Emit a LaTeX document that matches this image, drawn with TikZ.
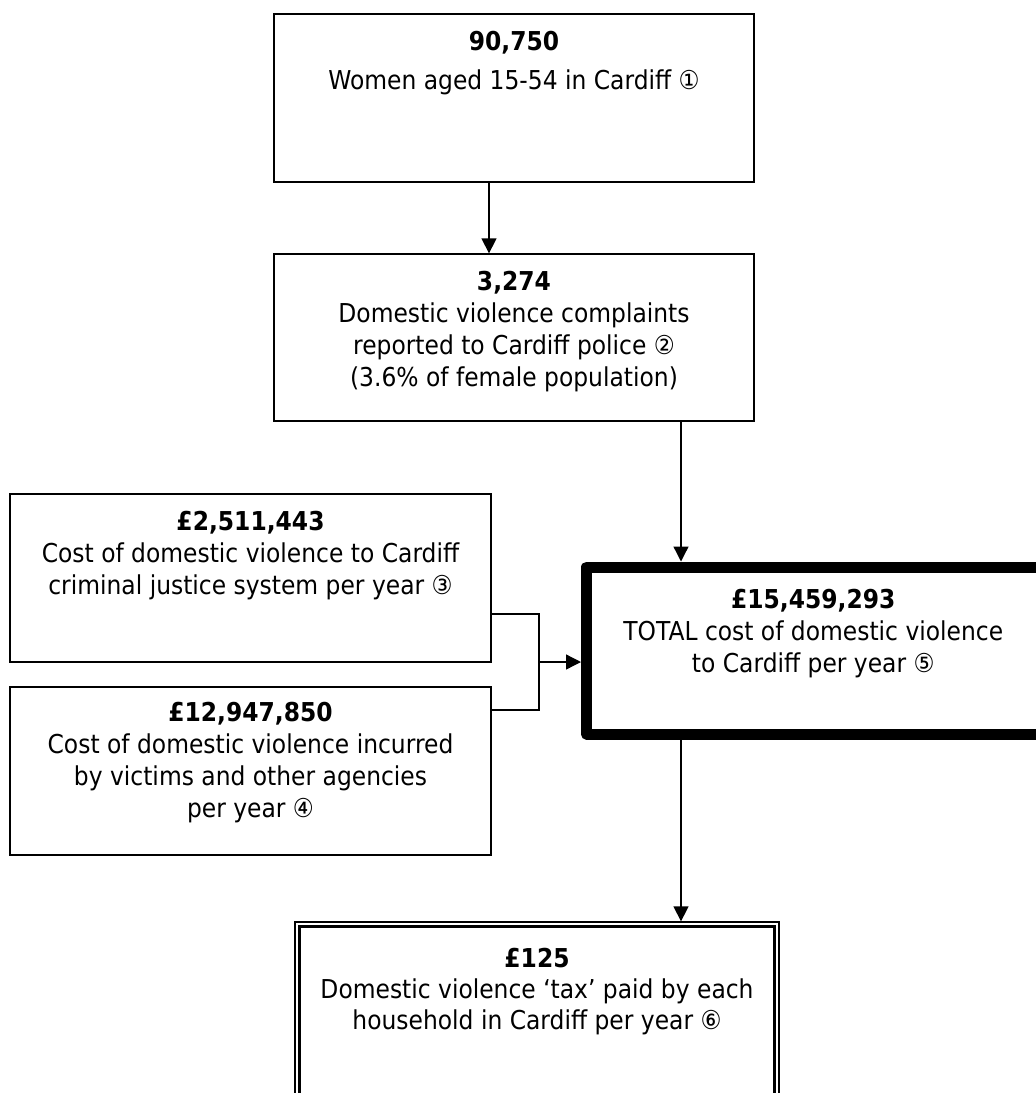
\documentclass[tikz,border=0pt]{standalone}
\usepackage{fontspec}
\setmainfont{DejaVu Sans}[FakeStretch=0.9]
\usetikzlibrary{arrows.meta,calc}
\begin{document}
\begin{tikzpicture}[x=1pt,y=-1pt,
  box/.style={draw, line width=1.3pt, rectangle, inner sep=0pt},
  txt/.style={anchor=north, align=center, inner sep=0pt, font=\fontsize{26}{32}\selectfont},
  arr/.style={-{Triangle[length=15pt,width=15pt]}, line width=1.3pt},
  conn/.style={line width=1.3pt}]
\useasboundingbox (0,0) rectangle (1036,1093);
\clip (0,0) rectangle (1036,1093);

% boxes
\node[box, minimum width=480pt, minimum height=168pt] (b1) at (514,98) {};
\node[box, minimum width=480pt, minimum height=167pt] (b2) at (514,337.5) {};
\node[box, minimum width=481pt, minimum height=168pt] (A) at (250.5,578) {};
\node[box, minimum width=481pt, minimum height=168pt] (B) at (250.5,771) {};
\node[box, line width=11pt, line join=round, minimum width=457.5pt, minimum height=167pt] (tot) at (815.25,650.5) {};
\node[box, minimum width=484pt, minimum height=178pt] (bot) at (537,1011) {};
\draw[line width=3pt] ([shift={(5pt,-5pt)}]bot.north west) rectangle ([shift={(-5pt,5pt)}]bot.south east);

% texts
\node[txt] (t1) at ($(b1.north)+(0,17.5)$) {\textbf{90,750}\\[7pt]Women aged 15-54 in Cardiff ①};
\node[txt] (t2) at ($(b2.north)+(0,17.5)$) {\textbf{3,274}\\Domestic violence complaints\\reported to Cardiff police ②\\(3.6\% of female population)};
\node[txt] (tA) at ($(A.north)+(0,18)$) {\textbf{£2,511,443}\\Cost of domestic violence to Cardiff\\criminal justice system per year ③};
\node[txt] (tB) at ($(B.north)+(0,15.5)$) {\textbf{£12,947,850}\\Cost of domestic violence incurred\\by victims and other agencies\\per year ④};
\node[txt] (tT) at ($(tot.north)+(-2,27.5)$) {\textbf{£15,459,293}\\TOTAL cost of domestic violence\\to Cardiff per year ⑤};
\node[txt, font=\fontsize{26}{31}\selectfont] (tb) at ($(bot.north)+(0,26.5)$) {\textbf{£125}\\Domestic violence ‘tax’ paid by each\\household in Cardiff per year ⑥};

% connectors
\coordinate (ax) at (681,0);
\coordinate (j) at (539,662);
\draw[arr] ([xshift=-25pt]b1.south) -- ([xshift=-25pt]b2.north);
\draw[arr] (b2.south -| ax) -- (tot.north -| ax);
\draw[conn] ([yshift=-36pt]A.east) -| (j);
\draw[conn] ([yshift=61pt]B.east) -| (j);
\draw[arr] (j) -- (tot.west |- j);
\draw[arr] (tot.south -| ax) -- (bot.north -| ax);
\end{tikzpicture}
\end{document}
